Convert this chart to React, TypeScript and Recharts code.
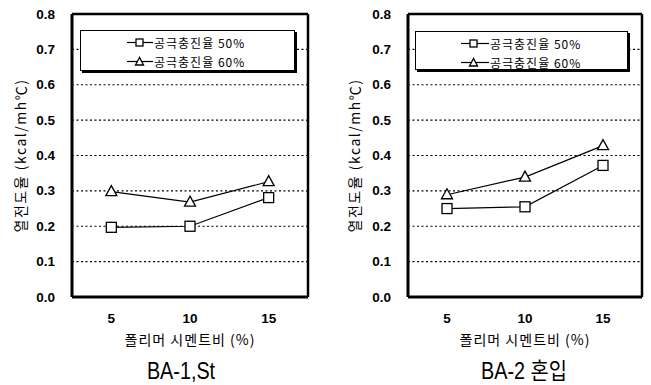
import React from 'react';
import { LineChart, Line, XAxis, YAxis, CartesianGrid, ReferenceLine, Legend } from 'recharts';

const xValues = [5, 10, 15];
const seriesNames = ['공극충진율 50%', '공극충진율 60%'];
const ba1Fill50 = [0.197, 0.2, 0.281];
const ba1Fill60 = [0.298, 0.268, 0.326];
const ba2Fill50 = [0.25, 0.255, 0.372];
const ba2Fill60 = [0.289, 0.339, 0.428];
const yTicks = [0, 0.1, 0.2, 0.3, 0.4, 0.5, 0.6, 0.7, 0.8];
const xTicks = [5, 10, 15];
const titles = ['BA-1,St', 'BA-2 혼입'];
const xLabel = '폴리머 시멘트비 (%)';
const yLabel = '열전도율 (kcal/mh℃)';

const FONT = "'Liberation Sans', Arial, 'Noto Sans CJK KR', sans-serif";
const KFONT = "'Noto Sans CJK KR', 'Liberation Sans', sans-serif";

const buildRows = (a: number[], b: number[]) =>
  xValues.map((x, i) => ({ x, s50: a[i], s60: b[i] }));

const SquareDot = (props: any) => {
  const { cx, cy } = props;
  if (cx == null || cy == null) return <g />;
  return <rect x={cx - 5} y={cy - 5} width={10} height={10} fill="#fff" stroke="#000" strokeWidth={1.3} />;
};
const TriDot = (props: any) => {
  const { cx, cy } = props;
  if (cx == null || cy == null) return <g />;
  return (
    <polygon
      points={`${cx},${cy - 6} ${cx - 5.5},${cy + 4} ${cx + 5.5},${cy + 4}`}
      fill="#fff"
      stroke="#000"
      strokeWidth={1.3}
    />
  );
};

const TickText = (props: any) => {
  const { x, y, payload, anchor, fmt } = props;
  return (
    <text
      x={x}
      y={y}
      textAnchor={anchor}
      dominantBaseline="central"
      fill="#000"
      fontSize={13.5}
      fontWeight="bold"
      fontFamily={FONT}
    >
      {fmt(payload.value)}
    </text>
  );
};

const LegendBox = ({ markerX, textX }: { markerX: number; textX: number }) => (
  <div
    style={{
      border: '1px solid #000',
      boxShadow: '2px 2px 0 #000',
      background: '#fff',
      height: '100%',
      boxSizing: 'border-box',
      paddingTop: 2,
      fontFamily: KFONT,
      fontSize: 12,
      color: '#000',
    }}
  >
    {seriesNames.map((name, i) => (
      <div key={name} style={{ position: 'relative', height: 19 }}>
        <svg width={30} height={19} style={{ position: 'absolute', left: markerX, top: 0 }}>
          <line x1={0} x2={textX - markerX - 1} y1={9.5} y2={9.5} stroke="#000" strokeWidth={1.2} />
          {i === 0 ? (
            <rect x={9} y={6} width={7} height={7} fill="#fff" stroke="#000" strokeWidth={1.3} />
          ) : (
            <polygon points="12.5,5.5 8.5,13 16.5,13" fill="#fff" stroke="#000" strokeWidth={1.3} />
          )}
        </svg>
        <span style={{ position: 'absolute', left: textX, top: 0, letterSpacing: 1, whiteSpace: 'nowrap', lineHeight: '19px' }}>
          {name}
        </span>
      </div>
    ))}
  </div>
);

type PanelProps = {
  left: number;
  width: number;
  rightMargin: number;
  yAxisWidth: number;
  yLabelOffset: number;
  data: { x: number; s50: number; s60: number }[];
  legend: { left: number; top: number; width: number; height: number; markerX: number; textX: number };
};

const Panel = ({ left, width, rightMargin, yAxisWidth, yLabelOffset, data, legend }: PanelProps) => (
  <div style={{ position: 'absolute', left, top: 0, width, height: 385 }}>
    <LineChart
      width={width}
      height={385}
      data={data}
      margin={{ top: 14, right: rightMargin, bottom: 0, left: 0 }}
    >
      <CartesianGrid horizontal vertical={false} stroke="#000" strokeDasharray="2 2.5" strokeWidth={1.2} />
      <XAxis
        type="number"
        dataKey="x"
        domain={[2.5, 17.5]}
        ticks={xTicks}
        height={88}
        stroke="#000"
        tickSize={0}
        tickMargin={21}
        axisLine={false}
        tickLine={false}
        tick={(p: any) => <TickText {...p} anchor="middle" fmt={(v: number) => String(v)} />}
        label={(p: any) => {
          const vb = p.viewBox || {};
          return (
            <text
              x={vb.x + vb.width / 2}
              y={vb.y + 42}
              textAnchor="middle"
              dominantBaseline="central"
              fontSize={14}
              letterSpacing={1}
              fontFamily={KFONT}
              fill="#000"
            >
              {xLabel}
            </text>
          );
        }}
      />
      <YAxis
        type="number"
        domain={[0, 0.8]}
        ticks={yTicks}
        width={yAxisWidth}
        stroke="#000"
        tickSize={0}
        tickMargin={17}
        axisLine={false}
        tickLine={false}
        tick={(p: any) => <TickText {...p} anchor="end" fmt={(v: number) => v.toFixed(1)} />}
        label={(p: any) => {
          const vb = p.viewBox || {};
          const cx = vb.x + yLabelOffset;
          const cy = vb.y + vb.height / 2;
          return (
            <text
              x={cx}
              y={cy}
              transform={`rotate(-90 ${cx} ${cy})`}
              textAnchor="middle"
              dominantBaseline="central"
              fontSize={14}
              letterSpacing={1.5}
              fontFamily={KFONT}
              fill="#000"
            >
              {yLabel}
            </text>
          );
        }}
      />
      <ReferenceLine y={0.8} stroke="#000" strokeWidth={2.5} />
      <ReferenceLine x={17.5} stroke="#000" strokeWidth={2.5} />
      <ReferenceLine y={0} stroke="#000" strokeWidth={3} />
      <ReferenceLine x={2.5} stroke="#000" strokeWidth={3} />
      <Legend
        verticalAlign="middle"
        align="center"
        layout="horizontal"
        wrapperStyle={{ left: legend.left, top: legend.top, width: legend.width, height: legend.height }}
        content={() => <LegendBox markerX={legend.markerX} textX={legend.textX} />}
      />
      <Line
        dataKey="s50"
        name={seriesNames[0]}
        stroke="#000"
        strokeWidth={1.2}
        isAnimationActive={false}
        dot={(p: any) => <SquareDot key={`s50-${p.index}`} {...p} />}
      />
      <Line
        dataKey="s60"
        name={seriesNames[1]}
        stroke="#000"
        strokeWidth={1.2}
        isAnimationActive={false}
        dot={(p: any) => <TriDot key={`s60-${p.index}`} {...p} />}
      />
    </LineChart>
  </div>
);

const Title = ({ text, centerX }: { text: string; centerX: number }) => (
  <div
    style={{
      position: 'absolute',
      left: centerX - 100,
      top: 356,
      width: 200,
      textAlign: 'center',
      fontFamily: "'Liberation Sans', Arial, 'Noto Sans CJK KR', sans-serif",
      fontSize: 23,
      lineHeight: '30px',
      transform: 'scaleX(0.86)',
      color: '#000',
    }}
  >
    {text}
  </div>
);

export default function App() {
  return (
    <div
      style={{
        position: 'absolute',
        left: 0,
        top: 0,
        width: 651,
        height: 385,
        background: '#fff',
        overflow: 'hidden',
      }}
    >
      <Panel
        left={0}
        width={325}
        rightMargin={17}
        yAxisWidth={72}
        yLabelOffset={20}
        data={buildRows(ba1Fill50, ba1Fill60)}
        legend={{ left: 80, top: 30, width: 215, height: 41, markerX: 46, textX: 73 }}
      />
      <Panel
        left={325}
        width={326}
        rightMargin={9}
        yAxisWidth={83}
        yLabelOffset={29}
        data={buildRows(ba2Fill50, ba2Fill60)}
        legend={{ left: 90, top: 31, width: 213, height: 39, markerX: 45, textX: 74 }}
      />
      <Title text={titles[0]} centerX={181} />
      <Title text={titles[1]} centerX={524} />
    </div>
  );
}
